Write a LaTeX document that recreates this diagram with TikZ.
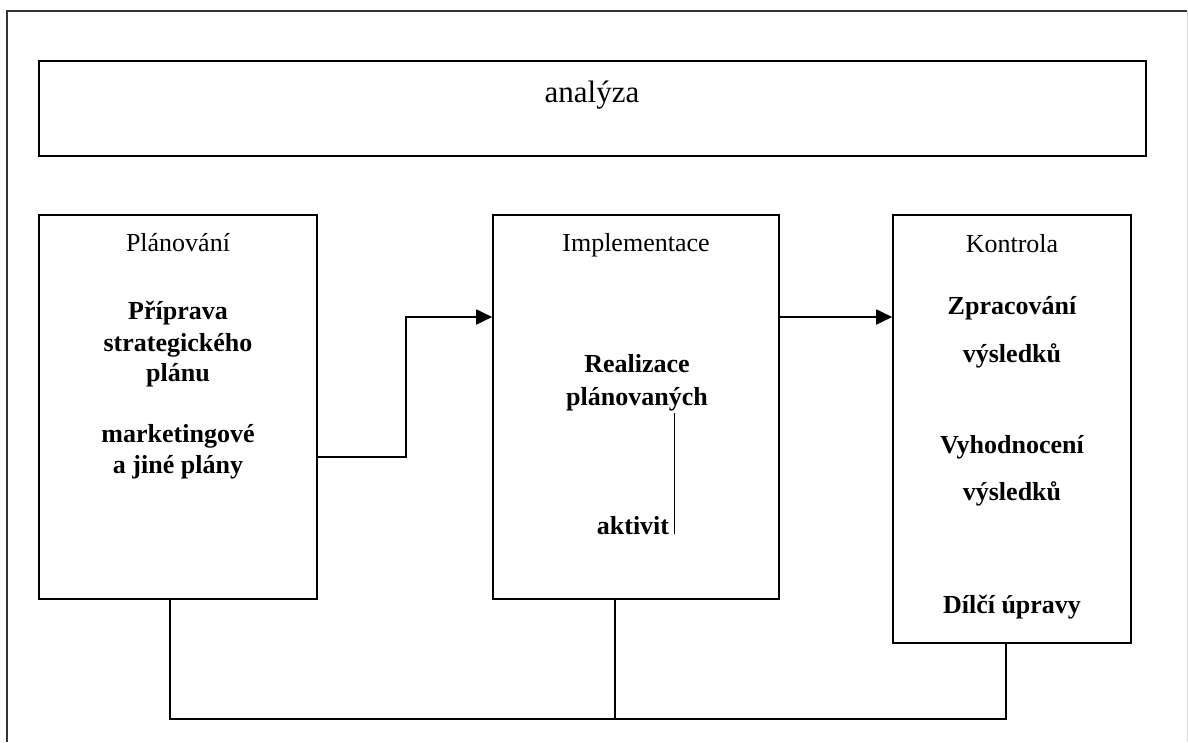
\documentclass[tikz,border=0pt]{standalone}
\usepackage{fontspec}
\setmainfont{Liberation Serif}
\usetikzlibrary{arrows.meta, positioning}

\tikzset{
    box/.style={draw, line width=1.6pt, inner sep=0pt},
    txt/.style={anchor=base, font=\fontsize{26}{31}\selectfont},
    btxt/.style={txt, font=\fontsize{26}{31}\selectfont\bfseries},
    arr/.style={line width=1.8pt, -{Triangle[length=16pt, width=15pt]}},
    link/.style={line width=1.6pt}
}

\begin{document}
\begin{tikzpicture}[x=1pt, y=-1pt]
    \useasboundingbox (0,0) rectangle (1188,742);
    % ramecek
    \draw[line width=1.8pt, black!80] (7,742) -- (7,11) -- (1187,11);
    \draw[line width=1pt, black!15] (1187,11) -- (1187,742);

    % analyza
    \node[box, minimum width=1107pt, minimum height=95pt] (anal) at (592.5,108.5) {};
    \node[anchor=base, font=\fontsize{31}{36}\selectfont] (tanal) at (592,102) {analýza};

    % tri bloky
    \node[box, minimum width=278pt, minimum height=384pt] (plan) at (178,407) {};
    \node[box, minimum width=286pt, minimum height=384pt] (impl) at (636,407) {};
    \node[box, minimum width=238pt, minimum height=428pt] (ctrl) at (1012,429) {};

    % nadpisy
    \node[txt] (tplan) at (178,251) {Plánování};
    \node[txt] (timpl) at (636,251) {Implementace};
    \node[txt] (tctrl) at (1012,252) {Kontrola};

    % Planovani
    \foreach \y/\t in {319/Příprava, 351/strategického, 381/plánu, 442/marketingové, 473/a jiné plány} {
        \node[btxt] (p\y) at (178,\y) {\t};
    }
    % Implementace
    \foreach \y/\t in {372/Realizace, 405/plánovaných} {
        \node[btxt] (i\y) at (637,\y) {\t};
    }
    \node[btxt] (i534) at (633,534) {aktivit};
    \coordinate (bar) at (674,413);
    \draw[line width=0.8pt] (bar) -- ++(0,121);
    % Kontrola
    \foreach \y/\t in {314/Zpracování, 362/výsledků, 453/Vyhodnocení, 500/výsledků, 613/Dílčí úpravy} {
        \node[btxt] (k\y) at (1012,\y) {\t};
    }

    % sipky
    \draw[arr] ([yshift=-50pt]plan.east) -- ++(88,0) |- ([yshift=90pt]impl.west);
    \coordinate (hi) at ([yshift=90pt]impl.east);
    \draw[arr] (hi) -- (hi -| ctrl.west);

    % zpetna vazba
    \draw[link] ([xshift=-8pt]plan.south) -- ++(0,119) -| ([xshift=-6pt]ctrl.south);
    \draw[link] ([xshift=-21pt]impl.south) -- ++(0,119);
\end{tikzpicture}
\end{document}
